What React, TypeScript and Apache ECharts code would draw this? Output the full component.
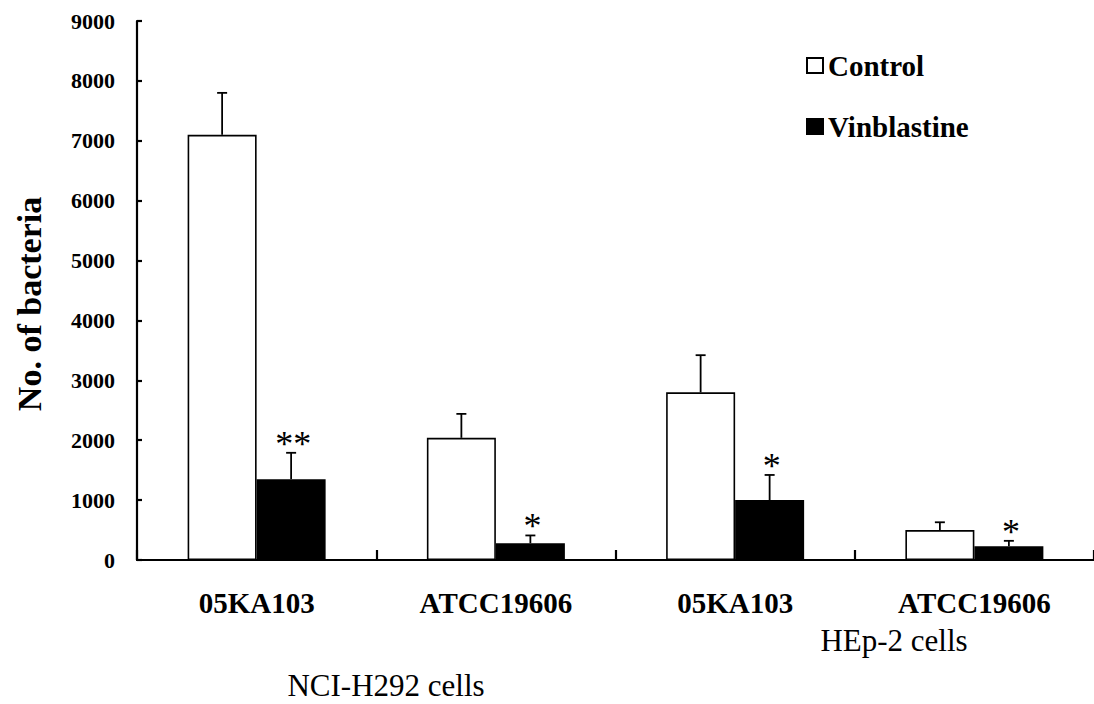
import React, { useEffect, useRef } from "react";
import * as echarts from "echarts";

const categories = ["05KA103", "ATCC19606", "05KA103", "ATCC19606"];
const controlMeans = [7100, 2040, 2800, 500];
const controlErrors = [700, 400, 620, 130];
const vinMeans = [1350, 280, 1000, 230];
const vinErrors = [440, 130, 420, 90];
const vinStars = ["**", "*", "*", "*"];
const yTicks = [0, 1000, 2000, 3000, 4000, 5000, 6000, 7000, 8000, 9000];
const groupLabels = ["NCI-H292 cells", "HEp-2 cells"];
const yTitle = "No. of bacteria";

const FAM = "Liberation Serif";
const BAR_W = 69;

function errorSeries(name: string, means: number[], errs: number[], stars: string[] | null, side: number) {
  return {
    type: "custom",
    name: name + " err",
    z: 5,
    data: means.map((m, i) => [i, m, m + errs[i]]),
    encode: { x: 0, y: 2 },
    renderItem: (params: any, api: any) => {
      const i = api.value(0);
      const base = api.coord([i, api.value(1)]);
      const top = api.coord([i, api.value(2)]);
      const x = base[0] + side * (BAR_W / 2);
      const star = stars ? stars[i] : "";
      const children: any[] = [
        { type: "line", shape: { x1: x, y1: base[1], x2: x, y2: top[1] }, style: { stroke: "#000", lineWidth: 1.8 } },
        { type: "line", shape: { x1: x - 5, y1: top[1], x2: x + 5, y2: top[1] }, style: { stroke: "#000", lineWidth: 1.8 } },
      ];
      if (star) {
        children.push({
          type: "text",
          style: {
            text: star,
            x: x + 2,
            y: top[1] + 9,
            textAlign: "center",
            textVerticalAlign: "bottom",
            font: "36px 'Liberation Serif'",
            fill: "#000",
          },
        });
      }
      return { type: "group", children };
    },
  };
}

export default function App() {
  const ref = useRef<HTMLDivElement>(null);
  useEffect(() => {
    if (!ref.current) return;
    const chart = echarts.init(ref.current, undefined, { renderer: "svg" });
    chart.setOption({
      animation: false,
      backgroundColor: "#fff",
      textStyle: { fontFamily: FAM },
      grid: { left: 137, right: -7, top: 21, bottom: 144, containLabel: false },
      legend: {
        data: [
          { name: "Control", icon: "rect" },
          { name: "Vinblastine", icon: "rect" },
        ],
        orient: "vertical",
        left: 801,
        top: 46,
        itemWidth: 16,
        itemHeight: 15,
        itemGap: 32,
        textStyle: { fontFamily: "'Liberation Serif'", fontSize: 29, fontWeight: "bold", color: "#000" },
      },
      xAxis: {
        type: "category",
        data: categories,
        axisLine: { lineStyle: { color: "#000", width: 2.2 } },
        axisTick: { show: true, inside: true, length: 10, alignWithLabel: false, lineStyle: { color: "#000", width: 2.2 } },
        axisLabel: { color: "#000", fontSize: 29, fontWeight: "bold", fontFamily: "serif", margin: 28, interval: 0 },
      },
      yAxis: {
        type: "value",
        min: 0,
        max: 9000,
        interval: 1000,
        splitLine: { show: false },
        axisLine: { show: true, lineStyle: { color: "#000", width: 2.2 } },
        axisTick: { show: true, inside: true, length: 5, lineStyle: { color: "#000", width: 2.2 } },
        axisLabel: {
          color: "#000",
          fontSize: 22,
          fontWeight: "bold",
          fontFamily: "Times New Roman",
          margin: 22,
          formatter: (v: number) => (yTicks.indexOf(v) >= 0 ? String(v) : ""),
        },
      },
      series: [
        {
          name: "Control",
          type: "bar",
          data: controlMeans,
          barWidth: BAR_W,
          barGap: "0%",
          itemStyle: { color: "#fff", borderColor: "#000", borderWidth: 1.6 },
        },
        {
          name: "Vinblastine",
          type: "bar",
          data: vinMeans,
          barWidth: BAR_W,
          barGap: "0%",
          itemStyle: { color: "#000", borderColor: "#000", borderWidth: 1.6 },
        },
        errorSeries("Control", controlMeans, controlErrors, null, -1),
        errorSeries("Vinblastine", vinMeans, vinErrors, vinStars, 1),
      ],
      graphic: [
        {
          type: "text",
          x: 29,
          y: 304,
          rotation: Math.PI / 2,
          style: {
            text: yTitle,
            textAlign: "center",
            textVerticalAlign: "middle",
            fontFamily: FAM,
            fontWeight: "bold",
            fontSize: 34,
            fill: "#000",
          },
        },
        {
          type: "text",
          x: 386,
          y: 685,
          style: { text: groupLabels[0], textAlign: "center", textVerticalAlign: "middle", fontFamily: FAM, fontSize: 31, fill: "#000" },
        },
        {
          type: "text",
          x: 894,
          y: 640,
          style: { text: groupLabels[1], textAlign: "center", textVerticalAlign: "middle", fontFamily: FAM, fontSize: 31, fill: "#000" },
        },
      ],
    });
    return () => chart.dispose();
  }, []);
  return <div ref={ref} style={{ position: "absolute", left: 0, top: 0, width: 1094, height: 704 }} />;
}
